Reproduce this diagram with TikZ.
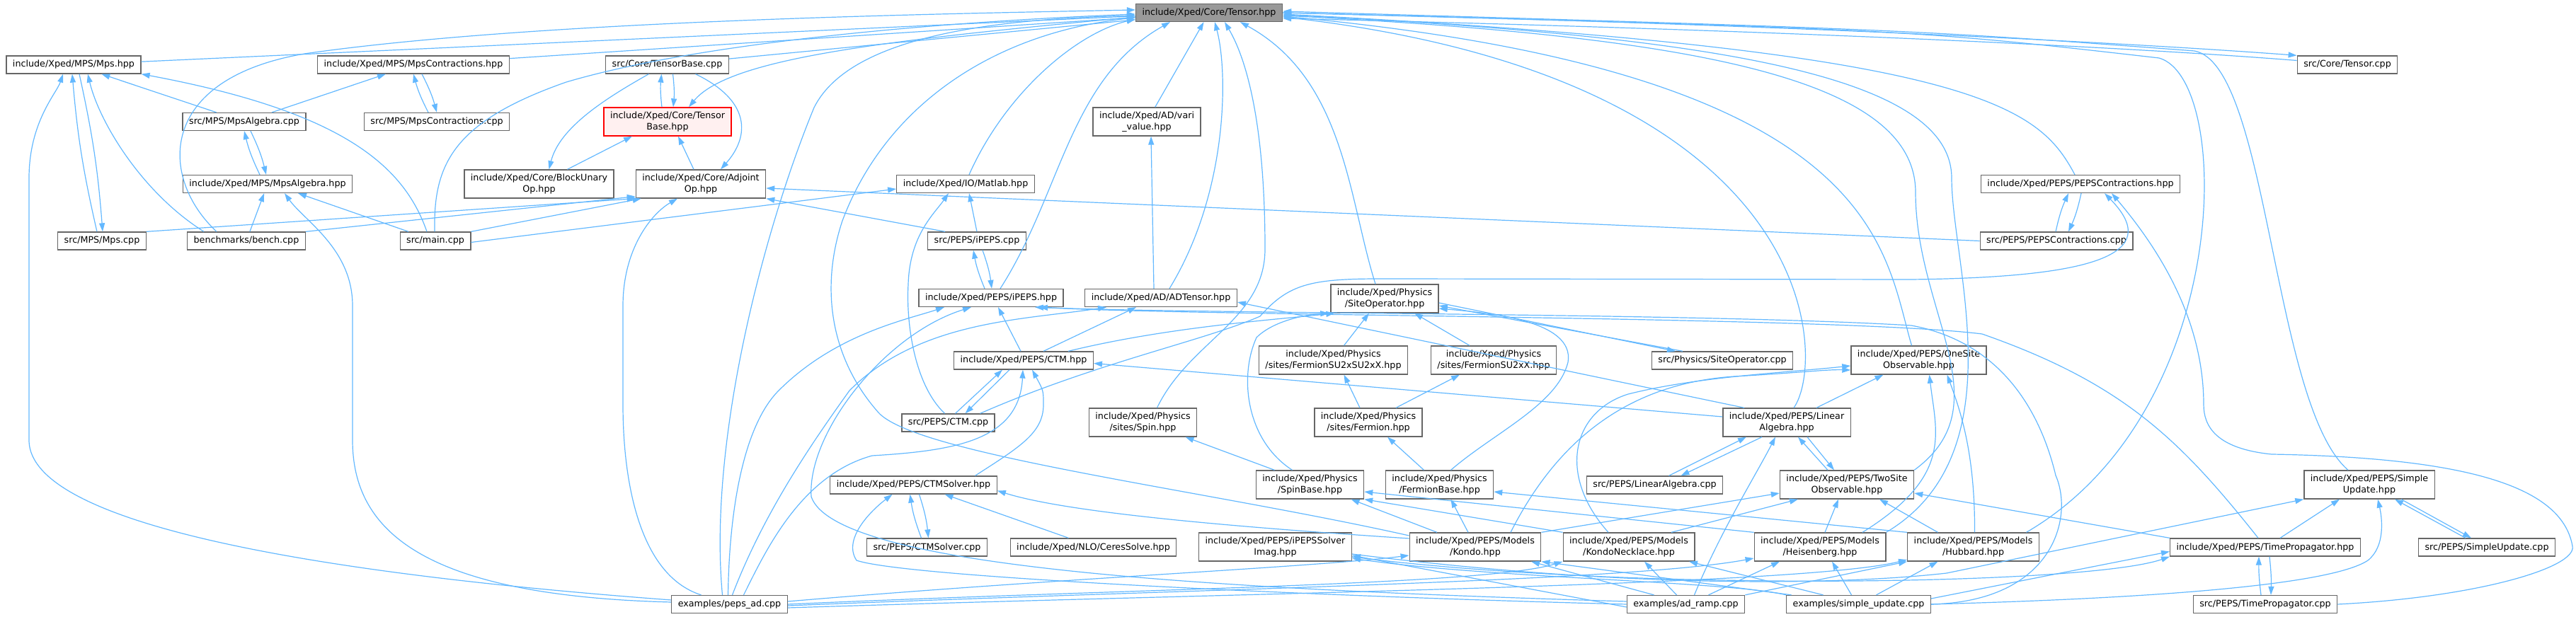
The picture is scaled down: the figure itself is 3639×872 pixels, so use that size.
\documentclass[tikz,border=0pt]{standalone}
\usepackage{fontspec}
\setmainfont{DejaVu Sans}
\usetikzlibrary{arrows.meta}
\definecolor{edgeblue}{HTML}{63B8FF}
\definecolor{boxgray}{HTML}{666666}
\definecolor{rootfill}{HTML}{999999}
\definecolor{truncred}{HTML}{FF0000}
\definecolor{truncfill}{HTML}{FFF0F0}

\begin{document}
\begin{tikzpicture}[
    x=1pt,y=1pt,
    file/.style={draw=boxgray,line width=1.3pt,fill=white,align=center,
                 font={\fontsize{12.7}{15.5}\selectfont},
                 inner xsep=9pt,inner ysep=4pt,minimum height=25pt},
    two/.style={minimum height=40pt},
    root/.style={fill=rootfill},
    trunc/.style={draw=truncred,fill=truncfill},
    dep/.style={draw=edgeblue,line width=1.2pt,-{Triangle[length=12pt,width=8pt]}}
  ]
\useasboundingbox (0,0) rectangle (3639,872);

\node[file,root] (tensor) at (1708,854) {include/Xped/Core/Tensor.hpp};
\node[file] (mps) at (104,780.5) {include/Xped/MPS/Mps.hpp};
\node[file] (mpscon) at (584,780.5) {include/Xped/MPS/MpsContractions.hpp};
\node[file] (tbcpp) at (942.5,780.5) {src/Core/TensorBase.cpp};
\node[file] (tcpp) at (3316,780.5) {src/Core/Tensor.cpp};
\node[file] (mpsalgcpp) at (345,700) {src/MPS/MpsAlgebra.cpp};
\node[file] (mpsconcpp) at (617,700) {src/MPS/MpsContractions.cpp};
\node[file,two,trunc] (tbhpp) at (943,700) {include/Xped/Core/Tensor\\Base.hpp};
\node[file,two] (vari) at (1620,700) {include/Xped/AD/vari\\\_value.hpp};
\node[file] (mpsalg) at (378,612) {include/Xped/MPS/MpsAlgebra.hpp};
\node[file,two] (blockop) at (761.5,612) {include/Xped/Core/BlockUnary\\Op.hpp};
\node[file,two] (adjop) at (990,612) {include/Xped/Core/Adjoint\\Op.hpp};
\node[file] (matlab) at (1364,612) {include/Xped/IO/Matlab.hpp};
\node[file] (pepscon) at (2939,612) {include/Xped/PEPS/PEPSContractions.hpp};
\node[file] (mpscpp) at (144,531.5) {src/MPS/Mps.cpp};
\node[file] (bench) at (348,531.5) {benchmarks/bench.cpp};
\node[file] (main) at (615,531.5) {src/main.cpp};
\node[file] (ipepscpp) at (1380,531.5) {src/PEPS/iPEPS.cpp};
\node[file] (pepsconcpp) at (2905,531.5) {src/PEPS/PEPSContractions.cpp};
\node[file] (ipeps) at (1400,451) {include/Xped/PEPS/iPEPS.hpp};
\node[file] (adt) at (1640,451) {include/Xped/AD/ADTensor.hpp};
\node[file,two] (siteop) at (1956,450) {include/Xped/Physics\\/SiteOperator.hpp};
\node[file] (ctm) at (1446,362.5) {include/Xped/PEPS/CTM.hpp};
\node[file,two] (fsusu) at (1883.5,363) {include/Xped/Physics\\/sites/FermionSU2xSU2xX.hpp};
\node[file,two] (fsu) at (2110,363) {include/Xped/Physics\\/sites/FermionSU2xX.hpp};
\node[file] (siteopcpp) at (2433,362.5) {src/Physics/SiteOperator.cpp};
\node[file,two] (onesite) at (2710.5,363) {include/Xped/PEPS/OneSite\\Observable.hpp};
\node[file] (ctmcpp) at (1339.5,274.5) {src/PEPS/CTM.cpp};
\node[file,two] (spin) at (1614.5,275) {include/Xped/Physics\\/sites/Spin.hpp};
\node[file,two] (fermion) at (1933,275) {include/Xped/Physics\\/sites/Fermion.hpp};
\node[file,two] (linalg) at (2524,275) {include/Xped/PEPS/Linear\\Algebra.hpp};
\node[file] (ctmsolver) at (1290.5,186.5) {include/Xped/PEPS/CTMSolver.hpp};
\node[file,two] (spinbase) at (1850.5,187) {include/Xped/Physics\\/SpinBase.hpp};
\node[file,two] (fermionbase) at (2033.5,187) {include/Xped/Physics\\/FermionBase.hpp};
\node[file] (linalgcpp) at (2337.5,186.5) {src/PEPS/LinearAlgebra.cpp};
\node[file,two] (twosite) at (2609,187) {include/Xped/PEPS/TwoSite\\Observable.hpp};
\node[file,two] (suhpp) at (3347,187) {include/Xped/PEPS/Simple\\Update.hpp};
\node[file] (ctmsolvercpp) at (1309.5,98.5) {src/PEPS/CTMSolver.cpp};
\node[file] (ceres) at (1544.5,98.5) {include/Xped/NLO/CeresSolve.hpp};
\node[file,two] (solverimag) at (1801.5,99) {include/Xped/PEPS/iPEPSSolver\\Imag.hpp};
\node[file,two] (kondo) at (2084,99) {include/Xped/PEPS/Models\\/Kondo.hpp};
\node[file,two] (kondoneck) at (2301,99) {include/Xped/PEPS/Models\\/KondoNecklace.hpp};
\node[file,two] (heis) at (2571,99) {include/Xped/PEPS/Models\\/Heisenberg.hpp};
\node[file,two] (hubbard) at (2787.5,99) {include/Xped/PEPS/Models\\/Hubbard.hpp};
\node[file] (tprop) at (3200,98.5) {include/Xped/PEPS/TimePropagator.hpp};
\node[file] (sucpp) at (3513,98.5) {src/PEPS/SimpleUpdate.cpp};
\node[file] (pepsad) at (1030.5,18) {examples/peps\_ad.cpp};
\node[file] (adramp) at (2381.5,18) {examples/ad\_ramp.cpp};
\node[file] (simpleupd) at (2625.5,18) {examples/simple\_update.cpp};
\node[file] (tpropcpp) at (3200,18) {src/PEPS/TimePropagator.cpp};

% everything that includes Tensor.hpp
\draw[dep] (mps) -- (tensor);
\draw[dep] (mpscon) -- (tensor);
\draw[dep] (tbcpp) -- (tensor);
\draw[dep] ([xshift=-42pt]bench.north) .. controls (225,620) and (220,760) .. (430,796) .. controls (750,842) and (1300,852) .. ([yshift=4pt]tensor.west);
\draw[dep] ([xshift=-1pt]main.north) .. controls (612,640) and (640,700) .. (800,756) .. controls (1000,815) and (1350,842) .. ([yshift=-2pt]tensor.west);
\draw[dep] ([yshift=-6pt]tensor.west) .. controls (1250,815) and (1030,790) .. ([xshift=30pt]tbhpp.north);
\draw[dep] ([xshift=5pt]matlab.north) .. controls (1420,740) and (1520,825) .. ([yshift=-9pt]tensor.west);
\draw[dep] (vari) -- (tensor);
\draw[dep] ([xshift=12pt]adt.north) .. controls (1735,600) and (1735,770) .. ([xshift=8pt]tensor.south);
\draw[dep] ([xshift=13pt]ipeps.north) .. controls (1500,600) and (1510,760) .. ([xshift=-55pt]tensor.south);
\draw[dep] ([xshift=-13pt]siteop.north) .. controls (1905,590) and (1900,760) .. ([xshift=44pt]tensor.south);
\draw[dep] ([xshift=20pt]spin.north) .. controls (1680,390) and (1787,420) .. (1787,520) .. controls (1787,700) and (1760,790) .. ([xshift=22pt]tensor.south);
\draw[dep] ([xshift=-10pt]pepsad.north) .. controls (1000,250) and (1080,550) .. (1150,720) .. controls (1200,820) and (1400,845) .. ([yshift=-4pt]tensor.west);
\draw[dep] ([yshift=16pt]kondo.west) .. controls (1700,180) and (1290,230) .. (1240,290) .. controls (1170,370) and (1160,470) .. (1190,560) .. controls (1250,720) and (1400,825) .. ([yshift=-7pt]tensor.west);
\draw[dep] (tensor.east) .. controls (2500,838) and (3000,812) .. (tcpp.north west);
\draw[dep] ([yshift=6pt]tcpp.west) .. controls (3000,806) and (2500,830) .. ([yshift=-8pt]tensor.east);
\draw[dep] ([xshift=10pt]linalg.north) .. controls (2580,360) and (2580,760) .. ([yshift=-6pt]tensor.east);
\draw[dep] ([xshift=-10pt]onesite.north) .. controls (2660,520) and (2660,770) .. ([yshift=-5pt]tensor.east);
\draw[dep] (twosite.north east) .. controls (2830,300) and (2706,430) .. (2706,600) .. controls (2706,760) and (2400,820) .. ([yshift=-4pt]tensor.east);
\draw[dep] (heis.north east) .. controls (2850,230) and (2757,500) .. (2757,620) .. controls (2757,760) and (2450,820) .. ([yshift=-3pt]tensor.east);
\draw[dep] ([xshift=-8pt]pepscon.north) .. controls (2880,720) and (2800,800) .. ([yshift=-2pt]tensor.east);
\draw[dep] ([xshift=-30pt]suhpp.north) .. controls (3210,300) and (3205,780) .. (3100,800) .. controls (2700,830) .. ([yshift=2pt]tensor.east);
\draw[dep] ([xshift=75pt]hubbard.north) .. controls (3155,290) and (3155,760) .. (3050,790) .. controls (2700,830) .. (tensor.east);

% MPS
\draw[dep] ([xshift=-7pt]mpscpp.north) to[bend left=4] ([xshift=-2pt]mps.south);
\draw[dep] ([xshift=8pt]mps.south) to[bend left=4] ([xshift=1pt]mpscpp.north);
\draw[dep] ([xshift=-60pt]bench.north) .. controls (200,600) and (140,700) .. ([xshift=20pt]mps.south);
\draw[dep] (mpsalgcpp) -- (mps);
\draw[dep] ([xshift=-12pt]main.north) .. controls (570,640) and (480,715) .. (mps.south east);
\draw[dep] ([yshift=6pt]pepsad.west) .. controls (600,50) and (41,110) .. (41,250) -- (41,620) .. controls (41,700) and (80,740) .. ([xshift=-15pt]mps.south);
\draw[dep] (mpsalgcpp) -- (mpscon);
\draw[dep] ([xshift=-12pt]mpsconcpp.north) to[bend left=6] (mpscon.south);
\draw[dep] ([xshift=12pt]mpscon.south) to[bend left=6] (mpsconcpp.north);
\draw[dep] ([xshift=-11pt]mpsalg.north) to[bend left=6] (mpsalgcpp.south);
\draw[dep] ([xshift=9pt]mpsalgcpp.south) to[bend left=6] ([xshift=-2pt]mpsalg.north);
\draw[dep] (bench) -- (mpsalg);
\draw[dep] ([yshift=3pt]pepsad.west) .. controls (600,30) and (498,120) .. (498,250) -- (498,440) .. controls (498,520) and (430,560) .. ([xshift=24pt]mpsalg.south);
\draw[dep] ([xshift=-38pt]main.north) -- ([xshift=43pt]mpsalg.south);

% Core
\draw[dep] ([xshift=-26pt]tbcpp.south) .. controls (850,730) and (790,690) .. ([xshift=14pt]blockop.north);
\draw[dep] ([xshift=40pt]blockop.north) -- ([xshift=-50pt]tbhpp.south);
\draw[dep] ([xshift=-8pt]tbhpp.north) to[bend left=6] ([xshift=-8pt]tbcpp.south);
\draw[dep] ([xshift=8pt]tbcpp.south) to[bend left=6] ([xshift=8pt]tbhpp.north);
\draw[dep] ([xshift=40pt]tbcpp.south) .. controls (1060,730) and (1060,680) .. ([xshift=28pt]adjop.north);
\draw[dep] ([xshift=-10pt]adjop.north) -- ([xshift=15pt]tbhpp.south);
\draw[dep] (mpscpp.north east) -- (adjop.south west);
\draw[dep] (bench.north east) -- ([yshift=3pt]adjop.south west);
\draw[dep] (main.north east) -- ([xshift=8pt]adjop.south west);
\draw[dep] ([xshift=-40pt]pepsad.north) .. controls (900,60) and (880,200) .. (880,300) -- (880,440) .. controls (880,520) and (920,570) .. ([xshift=-33pt]adjop.south);
\draw[dep] ([xshift=-45pt]ipepscpp.north) -- (adjop.south east);
\draw[dep] (pepsconcpp.west) -- ([yshift=-6pt]adjop.east);

% IO and AD
\draw[dep] ([yshift=-2pt]main.east) -- ([yshift=-7pt]matlab.west);
\draw[dep] ([xshift=-5pt]ctmcpp.north) .. controls (1290,330) and (1280,420) .. (1283,470) .. controls (1285,540) and (1320,570) .. ([xshift=-24pt]matlab.south);
\draw[dep] (ipepscpp.north) -- ([xshift=5pt]matlab.south);
\draw[dep] ([xshift=-10pt]adt.north) -- ([xshift=6pt]vari.south);
\draw[dep] ([xshift=28pt]ctm.north) -- ([xshift=-35pt]adt.south);
\draw[dep] ([xshift=4pt]pepsad.north) .. controls (1080,150) and (1150,250) .. (1200,320) .. controls (1300,420) and (1450,420) .. ([xshift=-77pt]adt.south);
\draw[dep] ([xshift=-60pt]linalg.north) -- ([yshift=-6pt]adt.east);

% PEPS
\draw[dep] ([xshift=-9pt]ipeps.north) to[bend left=6] ([xshift=-5pt]ipepscpp.south);
\draw[dep] ([xshift=8pt]ipepscpp.south) to[bend left=6] ([xshift=1pt]ipeps.north);
\draw[dep] ([xshift=-4pt]ctm.north) -- ([xshift=10pt]ipeps.south);
\draw[dep] ([xshift=-2pt]pepsad.north) .. controls (1030,150) and (1050,270) .. (1100,320) .. controls (1180,400) and (1280,420) .. ([xshift=-66pt]ipeps.south);
\draw[dep] ([yshift=4pt]adramp.west) .. controls (1700,40) and (1180,70) .. (1146,170) .. controls (1140,260) and (1250,400) .. ([xshift=-28pt]ipeps.south);
\draw[dep] ([xshift=-10pt]tprop.north) .. controls (3080,250) and (3000,330) .. (2800,400) .. controls (2600,425) and (1700,425) .. ([xshift=68pt]ipeps.south);
\draw[dep] (simpleupd.east) .. controls (2900,22) and (2930,140) .. (2904,200) .. controls (2880,300) and (2820,390) .. (2700,412) .. controls (2400,430) and (1700,428) .. ([xshift=62pt]ipeps.south);
\draw[dep] ([xshift=10pt]ctmcpp.north) -- ([xshift=-30pt]ctm.south);
\draw[dep] ([xshift=-20pt]ctm.south) -- ([xshift=24pt]ctmcpp.north);
\draw[dep] ([xshift=87pt]ctmsolver.north) .. controls (1440,240) and (1474,260) .. (1474,300) .. controls (1474,320) .. ([xshift=12pt]ctm.south);
\draw[dep] ([xshift=20pt]pepsad.north) .. controls (1080,90) and (1130,200) .. (1232,228) .. controls (1350,235) and (1440,250) .. ([xshift=-1pt]ctm.south);
\draw[dep] ([yshift=8pt]linalg.west) -- ([yshift=-4pt]ctm.east);
\draw[dep] ([xshift=63pt]ctm.north) .. controls (1650,410) and (1800,420) .. ([xshift=6pt]siteop.south west);
\draw[dep] ([xshift=45pt]ctmcpp.north) .. controls (1550,360) and (1700,390) .. (1780,425) .. controls (1820,470) and (1850,478) .. (1950,478) -- (2700,477) .. controls (2950,480) and (3060,510) .. ([xshift=34pt]pepscon.south);
\draw[dep] ([xshift=-1pt]pepsconcpp.north) to[bend left=6] ([xshift=-17pt]pepscon.south);
\draw[dep] ([xshift=1pt]pepscon.south) to[bend left=6] ([xshift=17pt]pepsconcpp.north);
\draw[dep] (tpropcpp.east) .. controls (3500,28) and (3640,70) .. (3634,100) .. controls (3620,180) and (3500,225) .. (3209,230) .. controls (3130,238) and (3113,270) .. (3113,300) .. controls (3113,420) and (3050,520) .. ([xshift=44pt]pepscon.south);
\draw[dep] ([xshift=-8pt]ctmsolvercpp.north) to[bend left=6] ([xshift=-5pt]ctmsolver.south);
\draw[dep] ([xshift=8pt]ctmsolver.south) to[bend left=6] ([xshift=2pt]ctmsolvercpp.north);
\draw[dep] ([xshift=-35pt]ceres.north) -- ([xshift=44pt]ctmsolver.south);
\draw[dep] (adramp.west) .. controls (1900,28) and (1283,55) .. (1210,80) .. controls (1190,110) and (1230,150) .. ([xshift=-30pt]ctmsolver.south);
\draw[dep] ([yshift=12pt]kondo.west) .. controls (1700,130) and (1500,150) .. ([yshift=-8pt]ctmsolver.east);

% Physics
\draw[dep] ([xshift=15pt]fsusu.north) -- ([xshift=-22pt]siteop.south);
\draw[dep] ([xshift=-34pt]fsu.north) -- ([xshift=42pt]siteop.south);
\draw[dep] ([xshift=-12pt]fermion.north) -- ([xshift=15pt]fsusu.south);
\draw[dep] ([xshift=39pt]fermion.north) -- ([xshift=-48pt]fsu.south);
\draw[dep] ([xshift=-50pt]spinbase.north) -- ([xshift=60pt]spin.south);
\draw[dep] ([xshift=-25pt]spinbase.north) .. controls (1760,250) and (1750,340) .. (1775,395) .. controls (1800,420) and (1850,428) .. ([xshift=-2pt]siteop.south west);
\draw[dep] ([xshift=-22pt]fermionbase.north) -- ([xshift=27pt]fermion.south);
\draw[dep] ([xshift=16pt]fermionbase.north) .. controls (2110,260) and (2200,300) .. (2215,360) .. controls (2225,420) and (2100,430) .. ([yshift=-14pt]siteop.east);
\draw[dep] ([yshift=-6pt]siteop.east) -- ([xshift=-66pt]siteopcpp.north);
\draw[dep] ([xshift=-56pt]siteopcpp.north) -- ([yshift=-10pt]siteop.east);

% Models and observables
\draw[dep] ([xshift=-54pt]kondo.north) -- ([xshift=58pt]spinbase.south);
\draw[dep] ([xshift=-10pt]kondo.north) -- ([xshift=16pt]fermionbase.south);
\draw[dep] (kondo.north east) -- ([yshift=-12pt]twosite.west);
\draw[dep] ([xshift=50pt]kondo.north) .. controls (2200,250) and (2300,330) .. (2450,340) .. controls (2540,345) and (2580,350) .. ([yshift=-14pt]onesite.west);
\draw[dep] (kondoneck.north west) -- (spinbase.south east);
\draw[dep] ([xshift=60pt]kondoneck.north) -- ([xshift=-69pt]twosite.south);
\draw[dep] ([xshift=-29pt]kondoneck.north) .. controls (2200,200) and (2220,290) .. (2300,315) .. controls (2400,340) and (2520,345) .. ([yshift=-8pt]onesite.west);
\draw[dep] (heis.north west) -- ([yshift=-10pt]spinbase.east);
\draw[dep] ([xshift=7pt]heis.north) -- ([xshift=-12pt]twosite.south);
\draw[dep] ([xshift=60pt]heis.north) .. controls (2760,200) and (2735,260) .. ([xshift=15pt]onesite.south);
\draw[dep] (hubbard.north west) -- ([yshift=-10pt]fermionbase.east);
\draw[dep] ([xshift=-50pt]hubbard.north) -- ([xshift=46pt]twosite.south);
\draw[dep] ([xshift=2pt]hubbard.north) .. controls (2790,230) and (2770,290) .. ([xshift=40pt]onesite.south);
\draw[dep] ([xshift=42pt]linalg.north) -- ([xshift=-50pt]onesite.south);
\draw[dep] ([xshift=20pt]linalgcpp.north) -- ([xshift=-57pt]linalg.south);
\draw[dep] ([xshift=-35pt]linalg.south) -- ([xshift=37pt]linalgcpp.north);
\draw[dep] ([xshift=-27pt]twosite.north) -- ([xshift=16pt]linalg.south);
\draw[dep] ([xshift=29pt]linalg.south) -- ([xshift=-18pt]twosite.north);
\draw[dep] (tprop.north west) -- ([yshift=-12pt]twosite.east);
\draw[dep] ([xshift=21pt]tprop.north) -- ([xshift=-42pt]suhpp.south);
\draw[dep] ([xshift=-6pt]tpropcpp.north) to[bend left=4] ([xshift=-9pt]tprop.south);
\draw[dep] ([xshift=6pt]tprop.south) to[bend left=4] ([xshift=8pt]tpropcpp.north);
\draw[dep] ([xshift=-30pt]sucpp.north) -- ([xshift=36pt]suhpp.south);
\draw[dep] ([xshift=45pt]suhpp.south) -- ([xshift=-22pt]sucpp.north);
\draw[dep] ([yshift=-14pt]solverimag.east) .. controls (2300,35) and (2950,45) .. (tprop.south west);
\draw[dep] ([yshift=-10pt]solverimag.east) .. controls (2300,40) and (2600,45) .. (2750,62) -- (suhpp.south west);

% examples
\draw[dep] ([yshift=4pt]pepsad.east) .. controls (1500,55) and (1850,70) .. ([yshift=-12pt]kondo.west);
\draw[dep] (pepsad.east) .. controls (1600,40) and (2100,45) .. (kondoneck.south west);
\draw[dep] ([yshift=-2pt]pepsad.east) .. controls (1700,40) and (2300,50) .. ([yshift=-16pt]heis.west);
\draw[dep] ([yshift=-5pt]pepsad.east) .. controls (1800,35) and (2550,45) .. ([yshift=-18pt]hubbard.west);
\draw[dep] ([xshift=-45pt]adramp.north) -- ([xshift=79pt]kondo.south);
\draw[dep] ([xshift=-13pt]adramp.north) -- ([xshift=22pt]kondoneck.south);
\draw[dep] ([xshift=12pt]adramp.north) .. controls (2430,120) and (2480,200) .. ([xshift=-16pt]linalg.south);
\draw[dep] ([xshift=32pt]adramp.north) -- ([xshift=-57pt]heis.south);
\draw[dep] (adramp.north east) -- (hubbard.south west);
\draw[dep] ([yshift=-4pt]adramp.west) -- ([yshift=-12pt]solverimag.east);
\draw[dep] ([xshift=-95pt]simpleupd.north) -- (kondo.south east);
\draw[dep] ([xshift=-50pt]simpleupd.north) -- ([xshift=85pt]kondoneck.south);
\draw[dep] ([xshift=-10pt]simpleupd.north) -- ([xshift=17pt]heis.south);
\draw[dep] ([xshift=25pt]simpleupd.north) -- ([xshift=-50pt]hubbard.south);
\draw[dep] (simpleupd.north west) .. controls (2450,50) and (2100,55) .. ([yshift=-16pt]solverimag.east);
\draw[dep] ([yshift=8pt]simpleupd.east) -- ([yshift=-6pt]tprop.west);
\draw[dep] (simpleupd.east) .. controls (3100,28) and (3300,50) .. (3345,80) .. controls (3370,100) and (3365,140) .. ([xshift=12pt]suhpp.south);
\end{tikzpicture}
\end{document}
